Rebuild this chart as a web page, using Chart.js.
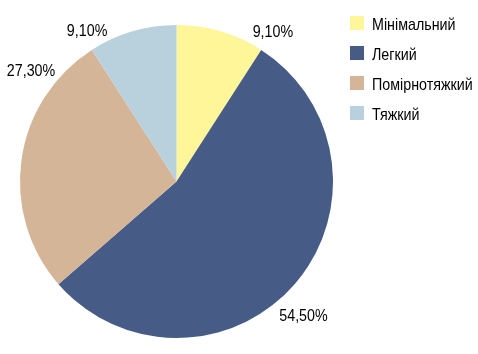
<!DOCTYPE html>
<html>
<head>
<meta charset="utf-8">
<script src="https://cdn.jsdelivr.net/npm/chart.js"></script>
<style>
  body{
    margin: 0;
    background: #fff;
    font-family: "Liberation Sans", Arial, sans-serif;
  }
  .wrap{
    position: relative;
    width: 478px;
    height: 354px;
  }
  #legende{
    position: absolute;
    left: 350px;
    top: 16px;
    margin: 0;
    padding: 0;
    list-style: none;
    font-size: 17px;
    color: #000;
  }
  #legende li{
    height: 30px;
    display: flex;
    align-items: flex-start;
    white-space: nowrap;
  }
  #legende span{
    display: inline-block;
    width: 14px;
    height: 14px;
    margin-right: 8px;
  }
  /* narrow look of the original font */
  #legende li div{
    line-height: 14px;
    margin-top: 2px;
    transform: scaleX(0.84);
    transform-origin: left center;
  }
</style>
</head>
<body>
<div class="wrap">
  <canvas id="camembert" width="478" height="354"></canvas>
  <ul id="legende"></ul>
</div>

<script>
const categories = ['Мінімальний', 'Легкий', 'Помірнотяжкий', 'Тяжкий'];
const valeurs = [9.1, 54.5, 27.3, 9.1];
const etiquettes = ['9,10%', '54,50%', '27,30%', '9,10%'];
const couleurs = ['#fff599', '#475b87', '#d4b597', '#b9d1dd'];

// legend built by hand so it sits where the original one is
const legende = document.getElementById('legende');
categories.forEach(function(c, i) {
  const li = document.createElement('li');
  li.innerHTML = `<span style="background:${couleurs[i]}"></span><div>${c}</div>`;
  legende.appendChild(li);
});

// percentage labels around the pie (angle from top, distance from centre)
const etiquettesExterieures = {
  id: 'etiquettesExterieures',
  afterDraw(chart, args, opts) {
    const ctx = chart.ctx;
    const arcs = chart.getDatasetMeta(0).data;
    arcs.forEach(function(arc, i) {
      const a = opts.angles[i] * Math.PI / 180;
      const d = opts.distances[i];
      const x = arc.x + d * Math.sin(a);
      const y = arc.y - d * Math.cos(a);
      ctx.save();
      ctx.translate(x, y);
      ctx.scale(opts.narrow, 1);
      ctx.font = opts.font;
      ctx.fillStyle = '#000';
      ctx.textAlign = 'center';
      ctx.textBaseline = 'middle';
      ctx.fillText(etiquettes[i], 0, 0);
      ctx.restore();
    });
  }
};

new Chart(document.getElementById('camembert'), {
  type: 'pie',
  data: {
    labels: categories,
    datasets: [{
      data: valeurs,
      backgroundColor: couleurs,
      borderWidth: 0
    }]
  },
  options: {
    responsive: false,
    animation: false,
    layout: {
      padding: { left: 20, right: 145, top: 25, bottom: 16 }
    },
    plugins: {
      legend: { display: false },
      tooltip: { enabled: false },
      etiquettesExterieures: {
        font: '17px "Liberation Sans", Arial, sans-serif',
        narrow: 0.84,
        angles: [32.8, 136.8, 307.1, 329.3],
        distances: [178, 185.5, 182.4, 175.1]
      }
    }
  },
  plugins: [etiquettesExterieures]
});
</script>
</body>
</html>
